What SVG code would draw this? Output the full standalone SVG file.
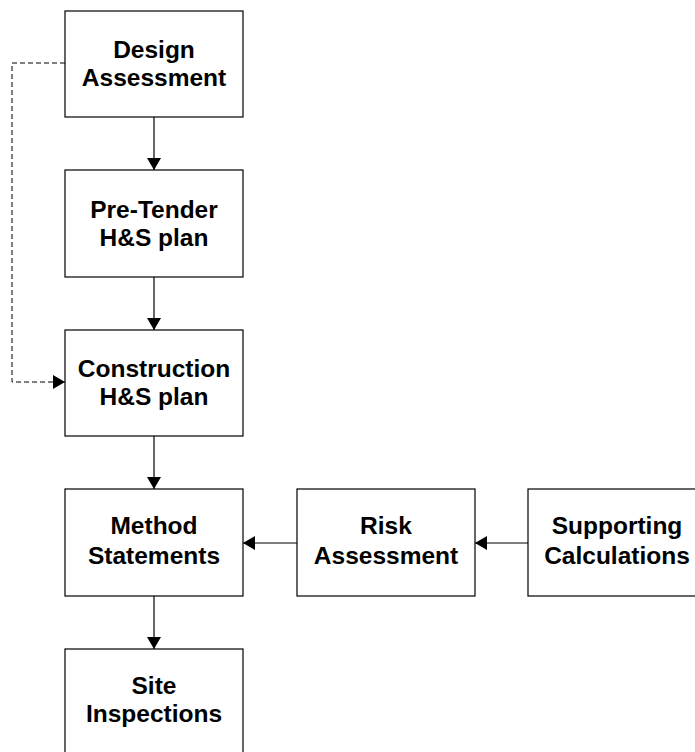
<svg xmlns="http://www.w3.org/2000/svg" width="695" height="752" viewBox="0 0 695 752">
<style>
.box{fill:#fff;stroke:#000;stroke-width:1.2}
.t{font-family:"Liberation Sans",Arial,sans-serif;font-weight:bold;font-size:24.5px;fill:#000;text-anchor:middle}
.c{fill:none;stroke:#000;stroke-width:1.2}
.d{fill:none;stroke:#000;stroke-width:1;stroke-dasharray:5,3}
</style>
<defs>
<marker id="ah" viewBox="0 0 12 14" refX="12" refY="7" markerWidth="12" markerHeight="14" markerUnits="userSpaceOnUse" orient="auto">
<path d="M0,0 L12,7 L0,14 Z" fill="#000"/>
</marker>
</defs>
<g id="connectors">
<line class="c" x1="154" y1="117" x2="154" y2="170" marker-end="url(#ah)"/>
<line class="c" x1="154" y1="277" x2="154" y2="330" marker-end="url(#ah)"/>
<line class="c" x1="154" y1="436" x2="154" y2="489" marker-end="url(#ah)"/>
<line class="c" x1="154" y1="596" x2="154" y2="649" marker-end="url(#ah)"/>
<line class="c" x1="297" y1="543" x2="243" y2="543" marker-end="url(#ah)"/>
<line class="c" x1="528" y1="543" x2="475" y2="543" marker-end="url(#ah)"/>
<path class="d" d="M65,63 H12 V382 H65" marker-end="url(#ah)"/>
</g>
<g id="design">
<rect class="box" x="65" y="11" width="178" height="106"/>
<text class="t" x="154" y="58">Design</text>
<text class="t" x="154" y="86">Assessment</text>
</g>
<g id="pretender">
<rect class="box" x="65" y="170" width="178" height="107"/>
<text class="t" x="154" y="218">Pre-Tender</text>
<text class="t" x="154" y="246">H&amp;S plan</text>
</g>
<g id="construction">
<rect class="box" x="65" y="330" width="178" height="106"/>
<text class="t" x="154" y="377">Construction</text>
<text class="t" x="154" y="405">H&amp;S plan</text>
</g>
<g id="method">
<rect class="box" x="65" y="489" width="178" height="107"/>
<text class="t" x="154" y="534">Method</text>
<text class="t" x="154" y="564">Statements</text>
</g>
<g id="risk">
<rect class="box" x="297" y="489" width="178" height="107"/>
<text class="t" x="386" y="534">Risk</text>
<text class="t" x="386" y="564">Assessment</text>
</g>
<g id="supporting">
<rect class="box" x="528" y="489" width="178" height="107"/>
<text class="t" x="617" y="534">Supporting</text>
<text class="t" x="617" y="564">Calculations</text>
</g>
<g id="site">
<rect class="box" x="65" y="649" width="178" height="107"/>
<text class="t" x="154" y="694">Site</text>
<text class="t" x="154" y="722">Inspections</text>
</g>
</svg>
